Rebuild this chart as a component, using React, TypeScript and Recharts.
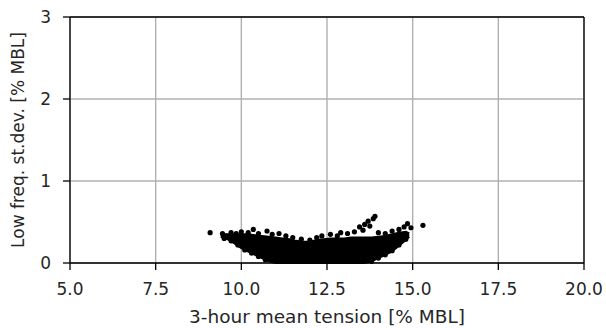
import React from "react";
import {
  ComposedChart,
  Area,
  Scatter,
  XAxis,
  YAxis,
  CartesianGrid,
  ReferenceLine,
} from "recharts";

const bodyX = [9.4, 9.6, 9.8, 10.0, 10.2, 10.4, 10.6, 10.8, 11.0, 11.2, 11.4, 11.6, 11.8, 12.0, 12.2, 12.4, 12.6, 12.8, 13.0, 13.2, 13.4, 13.6, 13.8, 14.0, 14.2, 14.4, 14.6, 14.8, 14.9];
const bodyLow = [0.32, 0.29, 0.24, 0.18, 0.14, 0.10, 0.06, 0.02, 0, 0, 0, 0, 0, 0, 0, 0, 0, 0, 0, 0, 0, 0, 0.02, 0.06, 0.10, 0.14, 0.21, 0.28, 0.32];
const bodyHigh = [0.34, 0.35, 0.35, 0.35, 0.35, 0.34, 0.33, 0.32, 0.31, 0.30, 0.29, 0.27, 0.26, 0.26, 0.28, 0.29, 0.30, 0.30, 0.30, 0.31, 0.31, 0.31, 0.31, 0.32, 0.33, 0.35, 0.37, 0.38, 0.36];

// scattered points on the rim of the cloud
const edgeX = [9.09, 9.45, 9.55, 9.7, 9.85, 10.0, 10.2, 10.35, 10.5, 10.75, 10.9, 11.1, 11.3, 11.5, 11.75, 12.0, 12.2, 12.35, 12.6, 12.8, 12.9, 13.1, 13.3, 13.45, 13.55, 13.6, 13.7, 13.85, 13.9, 13.75, 14.0, 14.2, 14.4, 14.6, 14.75, 14.85, 14.95, 15.3,
  9.5, 9.7, 9.9, 10.1, 10.3, 10.5, 10.7, 13.8, 14.0, 14.2, 14.4, 14.6, 14.8];
const edgeY = [0.37, 0.36, 0.33, 0.37, 0.36, 0.38, 0.37, 0.41, 0.36, 0.39, 0.35, 0.36, 0.33, 0.31, 0.29, 0.28, 0.31, 0.33, 0.35, 0.33, 0.37, 0.36, 0.38, 0.44, 0.40, 0.47, 0.51, 0.54, 0.57, 0.45, 0.37, 0.36, 0.39, 0.41, 0.44, 0.48, 0.43, 0.46,
  0.30, 0.27, 0.22, 0.16, 0.12, 0.08, 0.04, 0.02, 0.06, 0.10, 0.15, 0.22, 0.29];

const xTicks = [5, 7.5, 10, 12.5, 15, 17.5, 20];
const yTicks = [0, 1, 2, 3];

const bodyData = bodyX.map((x, i) => ({ x, range: [bodyLow[i], bodyHigh[i]] }));
const edgeData = edgeX.map((x, i) => ({ x, y: edgeY[i] }));

const font = "DejaVu Sans, sans-serif";
const tickStyle = { fill: "#262626", fontSize: 17, fontFamily: font };

const Dot = (props: any) => <circle cx={props.cx} cy={props.cy} r={2.6} fill="#000" />;

export default function App() {
  return (
    <div style={{ position: "absolute", left: 0, top: 0, background: "#fff" }}>
      <ComposedChart width={606} height={328} data={bodyData} margin={{ top: 17, right: 22, bottom: 16, left: 0 }}>
        <CartesianGrid stroke="#b0b0b0" strokeWidth={1.4} verticalValues={xTicks} horizontalValues={yTicks} />
        <XAxis
          dataKey="x"
          type="number"
          domain={[5, 20]}
          ticks={xTicks}
          allowDataOverflow
          tickFormatter={(v) => Number(v).toFixed(1)}
          tick={tickStyle}
          tickSize={7}
          tickMargin={13}
          height={49}
          stroke="#000"
          strokeWidth={1.3}
          label={{
            content: (p: any) => {
              const vb = p.viewBox;
              return (
                <text x={vb.x + vb.width / 2} y={323} textAnchor="middle" fill="#262626" fontSize={18.5} fontFamily={font}>
                  3-hour mean tension [% MBL]
                </text>
              );
            },
          }}
        />
        <YAxis
          type="number"
          domain={[0, 3]}
          ticks={yTicks}
          tick={tickStyle}
          tickSize={7}
          tickMargin={12}
          width={70}
          stroke="#000"
          strokeWidth={1.3}
          label={{
            content: (p: any) => {
              const vb = p.viewBox;
              const cx = 18;
              const cy = vb.y + vb.height / 2;
              return (
                <text x={cx} y={cy} transform={`rotate(-90 ${cx} ${cy})`} textAnchor="middle" dominantBaseline="central" fill="#262626" fontSize={17} fontFamily={font}>
                  Low freq. st.dev. [% MBL]
                </text>
              );
            },
          }}
        />
        <ReferenceLine y={3} stroke="#000" strokeWidth={1.3} />
        <ReferenceLine x={20} stroke="#000" strokeWidth={1.3} />
        <Area dataKey="range" type="linear" fill="#000" fillOpacity={1} stroke="#000" strokeWidth={2} isAnimationActive={false} />
        <Scatter data={edgeData} dataKey="y" shape={<Dot />} isAnimationActive={false} />
      </ComposedChart>
    </div>
  );
}
